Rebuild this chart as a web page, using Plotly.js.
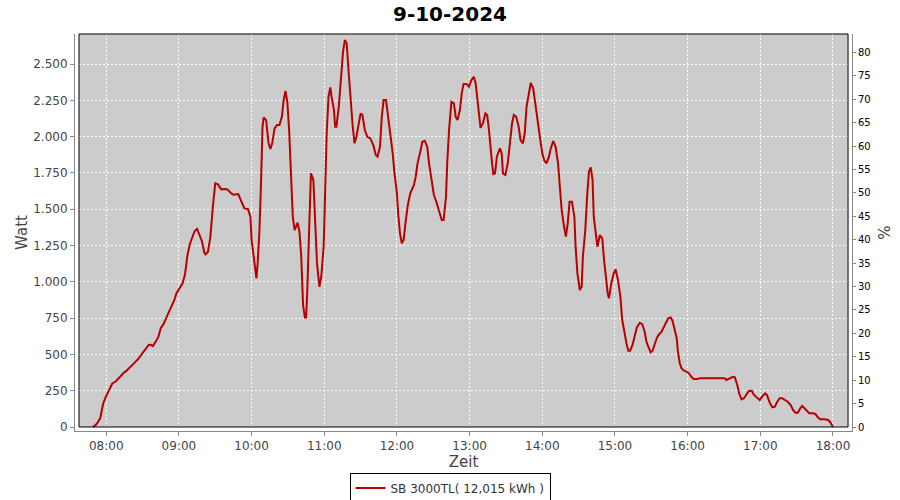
<!DOCTYPE html>
<html>
<head>
<meta charset="utf-8">
<script src="https://cdn.plot.ly/plotly-3.0.1.min.js"></script>
<style>html,body{margin:0;padding:0;background:#fff;}#chart{width:900px;height:500px;}</style>
</head>
<body>
<div id="chart"></div>
<script>
const day = '2024-10-09';
const chartTitle = '9-10-2024';
const seriesName = 'SB 3000TL( 12,015 kWh )';
const times = [
'07:49','07:52','07:55','07:56','07:57:30','08:00','08:02:30','08:05','08:08','08:11',
'08:14','08:17','08:20','08:23','08:26','08:29','08:32','08:35','08:37','08:38:30',
'08:41','08:43','08:45','08:47','08:50','08:52','08:54','08:56','08:58','09:01',
'09:03','09:05','09:07','09:09','09:11','09:13','09:15','09:17','09:19','09:21',
'09:22','09:24','09:26','09:28','09:30','09:32','09:35','09:38','09:40','09:43',
'09:45','09:49','09:51','09:54','09:57','09:59','10:00','10:02','10:04','10:05',
'10:06:30','10:08','10:09','10:10','10:12','10:14','10:15:30','10:17','10:19','10:21',
'10:23','10:25','10:26:30','10:28','10:29:30','10:31','10:33','10:34','10:35:30','10:37',
'10:38','10:39:30','10:41','10:42:30','10:44','10:45','10:46','10:47:30','10:49','10:51',
'10:52:30','10:54','10:56','10:57:30','10:59:30','11:00:30','11:02','11:03:30','11:05','11:06',
'11:08','11:09','11:10','11:12','11:14','11:15:30','11:17','11:18:30','11:20','11:21:30',
'11:23:30','11:25','11:26:30','11:28','11:30','11:31:30','11:33:30','11:35:30','11:38','11:40:30',
'11:42:30','11:44','11:46','11:47:30','11:49','11:51','11:52:30','11:54:30','11:56:30','11:58',
'12:00','12:01','12:02:30','12:04','12:05:30','12:07','12:09','12:11','12:14','12:15:30',
'12:17','12:19','12:21','12:23','12:25','12:26:30','12:28:30','12:30:30','12:32:30','12:35',
'12:37','12:38:30','12:40:30','12:41:30','12:43','12:45','12:47','12:48:30','12:50','12:52',
'12:53:30','12:55','12:57:30','12:59:30','13:01:30','13:03:30','13:05','13:06:30','13:08','13:09',
'13:11','13:13','13:14:30','13:16','13:18','13:19:30','13:21','13:22:30','13:25','13:26:30',
'13:27:30','13:29:30','13:31:30','13:33','13:35','13:36:30','13:38:30','13:40:30','13:42','13:44',
'13:45:30','13:47','13:49','13:50:30','13:52:30','13:54:30','13:56','13:58','14:00','14:01:30',
'14:03:30','14:05:30','14:07','14:09','14:11','14:13','14:14:30','14:16','14:18','14:19:30',
'14:21','14:22:30','14:24:30','14:26:30','14:27:30','14:29','14:31','14:32:30','14:33:30','14:35:30',
'14:37','14:38:30','14:40','14:41:30','14:42:30','14:44','14:45:30','14:47:30','14:49:30','14:51',
'14:52:30','14:54','14:55','14:57','14:59','15:00:30','15:02:30','15:04:30','15:06','15:07:30',
'15:09:30','15:11','15:12:30','15:14:30','15:16:30','15:18','15:20:30','15:22:30','15:24:30','15:26',
'15:27:30','15:29:30','15:31','15:32:30','15:34:30','15:36','15:38:30','15:40:30','15:42:30','15:44',
'15:46','15:47:30','15:49','15:51','15:52','15:53:30','15:55','15:57','15:59','16:01',
'16:03','16:05','16:08','16:10','16:20','16:30:30','16:32','16:34:30','16:37:30','16:39',
'16:41','16:42:30','16:44:30','16:46:30','16:48:30','16:50:30','16:53','16:54:30','16:57','16:59:30',
'17:01:30','17:04','17:05:30','17:08','17:10','17:12','17:14','17:16','17:18','17:20:30',
'17:22:30','17:25','17:27','17:29','17:31','17:33','17:34:30','17:36:30','17:38:30','17:40:30',
'17:43:30','17:45:30','17:47:30','17:49:30','17:53','17:56','17:58','18:00'
];
const watts = [
0,21,60,105,163,215,258,300,315,346,
370,390,412,440,465,500,535,565,566,558,
590,620,680,705,760,794,830,870,921,960,
990,1050,1180,1260,1310,1350,1364,1322,1280,1200,
1189,1207,1311,1517,1678,1673,1637,1639,1637,1610,
1600,1605,1563,1506,1501,1448,1288,1150,1024,1127,
1357,1747,2068,2133,2114,1954,1915,1954,2057,2080,
2080,2137,2252,2314,2240,2045,1678,1448,1357,1391,
1407,1345,1173,840,755,755,943,1357,1747,1701,
1403,1127,966,1035,1242,1586,2023,2275,2339,2275,
2183,2068,2068,2206,2412,2585,2665,2643,2459,2275,
2068,1954,1999,2068,2160,2149,2045,1999,1988,1942,
1873,1862,1930,2137,2252,2252,2160,2023,1885,1747,
1609,1472,1334,1265,1288,1403,1529,1609,1667,1724,
1816,1885,1965,1972,1930,1816,1701,1598,1552,1472,
1426,1426,1586,1816,2045,2240,2229,2137,2114,2183,
2298,2362,2362,2344,2390,2412,2367,2252,2137,2061,
2091,2160,2149,2045,1862,1742,1747,1862,1919,1885,
1747,1736,1816,1954,2091,2149,2137,2068,1977,1954,
2023,2206,2321,2371,2333,2206,2091,1999,1885,1839,
1816,1862,1919,1970,1930,1816,1655,1494,1379,1311,
1403,1552,1552,1448,1242,1058,943,966,1173,1357,
1586,1758,1789,1701,1448,1334,1242,1322,1300,1150,
1012,921,886,990,1058,1086,1012,897,737,656,
576,525,525,565,634,684,718,709,656,587,
553,514,525,565,611,634,656,691,725,749,
755,732,680,611,519,439,404,388,381,370,
346,331,331,335,335,335,324,335,346,342,
289,232,190,198,220,248,250,225,204,186,
209,232,220,163,136,140,174,198,198,186,
174,152,117,98,98,129,145,129,110,94,
94,90,67,53,53,48,30,0
];
const hourTicks = ['08:00','09:00','10:00','11:00','12:00','13:00','14:00','15:00','16:00','17:00','18:00'];

const xs = times.map(t => day + ' ' + t);
const fontFam = 'DejaVu Sans, Verdana, sans-serif';

const traces = [
  {x: xs, y: watts, type: 'scatter', mode: 'lines', name: seriesName,
   line: {color: '#b80000', width: 2}, showlegend: true, hoverinfo: 'x+y'},
  {x: [xs[0]], y: [null], type: 'scatter', mode: 'lines', yaxis: 'y2',
   showlegend: false, hoverinfo: 'skip'}
];

const layout = {
  width: 900, height: 500,
  margin: {l: 75, r: 48, t: 34, b: 69},
  paper_bgcolor: '#ffffff', plot_bgcolor: '#ffffff',
  separators: ',.',
  font: {family: fontFam, color: '#444'},
  title: {text: chartTitle, font: {family: fontFam, size: 20, weight: 'bold', color: '#000'},
          x: 0.5, xanchor: 'center', yref: 'container', y: 0.972, yanchor: 'middle'},
  xaxis: {
    type: 'date',
    range: [day + ' 07:34:12', day + ' 18:15:42'],
    tickvals: hourTicks.map(t => day + ' ' + t),
    ticktext: hourTicks,
    showgrid: true, gridcolor: '#ffffff', griddash: '2px,2px', gridwidth: 1,
    showline: true, linecolor: '#888', linewidth: 1,
    ticks: 'outside', ticklen: 4, tickcolor: '#888',
    tickfont: {size: 12, color: '#444', family: fontFam},
    zeroline: false,
    title: {text: 'Zeit', font: {size: 15, color: '#444', family: fontFam}, standoff: 3}
  },
  yaxis: {
    range: [-27.5, 2707],
    tick0: 0, dtick: 250, tickformat: ',.0f',
    showgrid: true, gridcolor: '#ffffff', griddash: '2px,2px', gridwidth: 1,
    showline: true, linecolor: '#888', linewidth: 1,
    ticks: 'outside', ticklen: 4, tickcolor: '#888',
    tickfont: {size: 12, color: '#444', family: fontFam},
    zeroline: false,
    title: {text: 'Watt', font: {size: 15, color: '#444', family: fontFam}, standoff: 1}
  },
  yaxis2: {
    overlaying: 'y', side: 'right', anchor: 'x',
    range: [-0.854, 83.92],
    tick0: 0, dtick: 5,
    showgrid: false, zeroline: false,
    showline: true, linecolor: '#888', linewidth: 1,
    ticks: 'outside', ticklen: 3, tickcolor: '#888',
    tickfont: {size: 10, color: '#000', family: fontFam},
    title: {text: '%', font: {size: 15, color: '#444', family: fontFam}, standoff: 9}
  },
  shapes: [
    {type: 'rect', xref: 'paper', yref: 'paper', x0: 0.00515, x1: 0.9949, y0: 0.01008, y1: 1,
     fillcolor: '#cccccc', line: {width: 0}, layer: 'below'},
    {type: 'rect', xref: 'paper', yref: 'paper', x0: 0.00515, x1: 0.9949, y0: 0.01008, y1: 1,
     fillcolor: 'rgba(0,0,0,0)', line: {width: 1, color: '#000'}, layer: 'above'}
  ],
  showlegend: true,
  legend: {orientation: 'h', xref: 'container', x: 0.5, xanchor: 'center',
           yref: 'container', y: 0.024, yanchor: 'middle',
           bgcolor: '#fff', bordercolor: '#000', borderwidth: 1,
           font: {size: 12, color: '#333', family: fontFam}, itemwidth: 30}
};

Plotly.newPlot('chart', traces, layout, {displayModeBar: false, staticPlot: true});
</script>
</body>
</html>
